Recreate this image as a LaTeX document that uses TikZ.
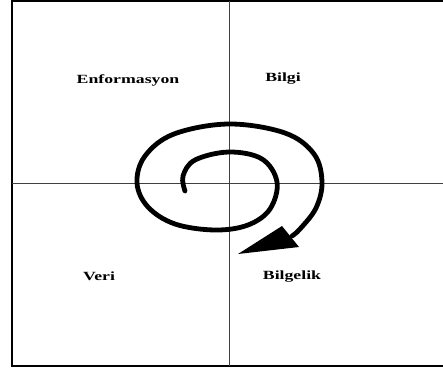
\documentclass[tikz,border=0pt]{standalone}
\usepackage{fontspec}
\setmainfont{Liberation Serif}
\begin{document}
\begin{tikzpicture}[x=1pt,y=-1pt,
  frame/.style={line width=2pt,black},
  axis/.style={line width=1pt,black!75},
  lbl/.style={font=\fontsize{12.5}{14}\selectfont\bfseries,xscale=1.42,inner sep=0pt},
  spiral/.style={line width=4.8pt,line cap=round,line join=round}]
\useasboundingbox (0,0) rectangle (443,369);
% frame (right side cut off)
\coordinate (tl) at (12,1.5);
\coordinate (tr) at (443,1.5);
\coordinate (bl) at (12,366);
\coordinate (br) at (443,366);
\draw[frame] (tr) -- (tl) -- (bl) -- (br);
% axes
\coordinate (vt) at (229,1.5);
\coordinate (vb) at (229,366);
\coordinate (hl) at (12,183);
\coordinate (hr) at (443,183);
\draw[axis] (vt) -- (vb);
\draw[axis] (hl) -- (hr);
% labels
\node[lbl] (enf) at (128,80) {Enformasyon};
\node[lbl] (bilgi) at (283,79) {Bilgi};
\node[lbl] (veri) at (99,276) {Veri};
\node[lbl] (bilgelik) at (292,277) {Bilgelik};
% spiral
\draw[spiral] plot[smooth,tension=0.6] coordinates {
  (185,191) (183,176) (195,160) (229,152) (262,159) (277,182)
  (270,209) (248,225) (215,230) (175,224) (148,207) (137,183)
  (145,156) (174,134) (229,124) (285,133) (314,154) (322,182)
  (316,208) (300,229) (292,236)};
\coordinate (a1) at (282,226);
\coordinate (a2) at (299,247);
\coordinate (tip) at (238,254);
\fill (a1) -- (a2) -- (tip) -- cycle;
\end{tikzpicture}
\end{document}
